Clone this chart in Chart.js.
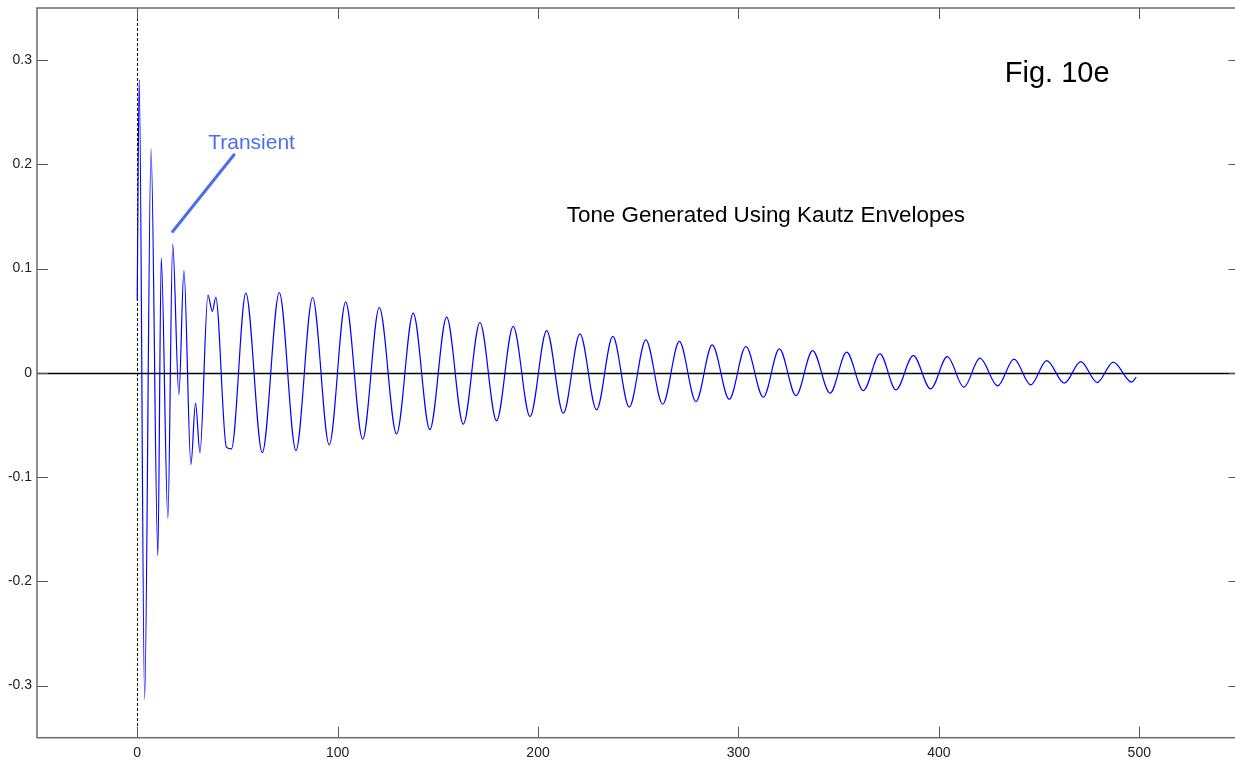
<!DOCTYPE html>
<html>
<head>
<meta charset="utf-8">
<script src="https://cdn.jsdelivr.net/npm/chart.js@4"></script>
<style>
  html, body { margin: 0; padding: 0; background: #fff; overflow: hidden; }
  #wrap { width: 1245px; height: 762px; position: relative; }
</style>
</head>
<body>
<div id="wrap"><canvas id="toneChart"></canvas></div>
<script>
// attack: sharp spikes before the tone settles (extrema, sample index / amplitude)
const transientX = [0, 1, 3.7, 6.9, 10.3, 12, 15.3, 17.7, 20.8, 23.3, 26.8, 29.1, 31.3, 35.3, 37.5, 39.2, 44.5, 47];
const transientY = [0.07, 0.281, -0.313, 0.215, -0.175, 0.11, -0.1395, 0.1235, -0.021, 0.098, -0.088, -0.029, -0.0765, 0.0745, 0.059, 0.0725, -0.0712, -0.073];

// decaying tone, peaks and troughs
const toneX = [54.2, 62.4, 70.9, 79.2, 87.5, 95.8, 104, 112.5, 120.8, 129.4, 137.7, 146, 154.4, 162.7, 171, 179.3, 187.6, 196, 204.3, 212.6, 220.9, 229.2, 237.3, 245.5, 253.8, 262.2, 270.5, 278.8, 286.9, 295.4, 303.7, 312.4, 320.4, 328.7, 337, 345.7, 354, 362.3, 370.6, 378.6, 387.2, 395.9, 404.2, 412.5, 420.5, 429.3, 437.5, 445.8, 453.8, 462.6, 470.8, 479, 487, 496.2, 498.5];
const toneY = [0.0765, -0.0765, 0.077, -0.0745, 0.0723, -0.069, 0.0678, -0.0636, 0.0627, -0.0585, 0.0573, -0.0545, 0.0535, -0.0492, 0.0483, -0.046, 0.0445, -0.042, 0.0406, -0.0387, 0.0374, -0.0355, 0.0349, -0.0329, 0.0317, -0.0301, 0.0301, -0.0275, 0.0269, -0.0253, 0.0253, -0.0234, 0.023, -0.0218, 0.0214, -0.0195, 0.0198, -0.017, 0.0182, -0.0163, 0.0165, -0.0154, 0.0156, -0.0137, 0.0141, -0.0125, 0.0131, -0.0115, 0.0118, -0.0099, 0.0108, -0.0093, 0.0103, -0.0089, -0.0041];

const xTicks = [0, 100, 200, 300, 400, 500];
const yTicks = [-0.3, -0.2, -0.1, 0, 0.1, 0.2, 0.3];

const signal = transientX.concat(toneX).map((x, i) => ({
  x: x,
  y: transientY.concat(toneY)[i],
}));

const FONT = "'Liberation Sans', Arial, sans-serif";

// box, inward ticks, zero lines and text labels, matlab style
const figureDecor = {
  id: "figureDecor",
  beforeDatasetsDraw(chart) {
    const { ctx, chartArea: a, scales } = chart;
    const xs = scales.x, ys = scales.y;
    ctx.save();
    // dashed marker at t = 0
    ctx.strokeStyle = "#000";
    ctx.lineWidth = 1;
    ctx.setLineDash([3, 2]);
    const x0 = Math.round(xs.getPixelForValue(0)) + 0.5;
    ctx.beginPath();
    ctx.moveTo(x0, a.top);
    ctx.lineTo(x0, a.bottom);
    ctx.stroke();
    ctx.setLineDash([]);
    // zero baseline
    const y0 = Math.round(ys.getPixelForValue(0)) + 0.5;
    ctx.lineWidth = 1.3;
    ctx.beginPath();
    ctx.moveTo(a.left, y0);
    ctx.lineTo(a.right, y0);
    ctx.stroke();
    ctx.restore();
  },
  afterDraw(chart) {
    const { ctx, chartArea: a, scales } = chart;
    const xs = scales.x, ys = scales.y;
    const tick = 11;
    ctx.save();
    ctx.strokeStyle = "#555";
    ctx.lineWidth = 1;
    ctx.beginPath();
    xTicks.forEach((v) => {
      const px = Math.round(xs.getPixelForValue(v)) + 0.5;
      ctx.moveTo(px, a.bottom);
      ctx.lineTo(px, a.bottom - tick);
      ctx.moveTo(px, a.top);
      ctx.lineTo(px, a.top + tick);
    });
    yTicks.forEach((v) => {
      const py = Math.round(ys.getPixelForValue(v)) + 0.5;
      ctx.moveTo(a.left, py);
      ctx.lineTo(a.left + tick, py);
      ctx.moveTo(a.right, py);
      ctx.lineTo(a.right - tick, py);
    });
    ctx.stroke();
    ctx.strokeStyle = "#6a6a6a";
    ctx.lineWidth = 1.5;
    ctx.strokeRect(a.left, a.top, a.right - a.left, a.bottom - a.top);

    // labels
    ctx.textBaseline = "alphabetic";
    ctx.fillStyle = "#000";
    ctx.font = "29px " + FONT;
    ctx.textAlign = "left";
    ctx.fillText("Fig. 10e", xs.getPixelForValue(432.9), ys.getPixelForValue(0.279));
    ctx.font = "22.4px " + FONT;
    ctx.textAlign = "center";
    ctx.fillText("Tone Generated Using Kautz Envelopes", xs.getPixelForValue(313.7), ys.getPixelForValue(0.1446));

    ctx.fillStyle = "#4a6ef0";
    ctx.font = "21px " + FONT;
    ctx.textAlign = "left";
    ctx.fillText("Transient", xs.getPixelForValue(35.4), ys.getPixelForValue(0.2147));
    ctx.strokeStyle = "#4a6ef0";
    ctx.lineWidth = 3;
    ctx.lineCap = "round";
    ctx.beginPath();
    ctx.moveTo(xs.getPixelForValue(17.7), ys.getPixelForValue(0.1356));
    ctx.lineTo(xs.getPixelForValue(48.3), ys.getPixelForValue(0.2092));
    ctx.stroke();
    ctx.restore();
  },
};

new Chart(document.getElementById("toneChart"), {
  type: "line",
  data: {
    datasets: [
      {
        label: "tone",
        data: signal,
        borderColor: "#0000ff",
        borderWidth: 1.2,
        pointRadius: 0,
        fill: false,
        cubicInterpolationMode: "monotone",
      },
    ],
  },
  options: {
    responsive: true,
    maintainAspectRatio: false,
    animation: false,
    layout: { padding: { top: 8, right: 5.5, left: 0, bottom: 0 } },
    plugins: {
      legend: { display: false },
      tooltip: { enabled: false },
    },
    scales: {
      x: {
        type: "linear",
        min: -50,
        max: 550,
        afterFit: (s) => {
          s.height = 24.3;
          s.paddingLeft = 0;
          s.paddingRight = 0;
        },
        afterBuildTicks: (s) => { s.ticks = xTicks.map((v) => ({ value: v })); },
        grid: { display: false, drawTicks: false },
        border: { display: false },
        ticks: {
          padding: 7,
          color: "#222",
          font: { family: FONT, size: 14 },
          maxRotation: 0,
        },
      },
      y: {
        type: "linear",
        min: -0.35,
        max: 0.35,
        afterFit: (s) => {
          s.width = 37;
          s.paddingTop = 0;
          s.paddingBottom = 0;
        },
        afterBuildTicks: (s) => { s.ticks = yTicks.map((v) => ({ value: v })); },
        grid: { display: false, drawTicks: false },
        border: { display: false },
        ticks: {
          padding: 5,
          color: "#222",
          font: { family: FONT, size: 14 },
          callback: (v) => (v === 0 ? "0" : String(Math.round(v * 10) / 10)),
        },
      },
    },
  },
  plugins: [figureDecor],
});
</script>
</body>
</html>
